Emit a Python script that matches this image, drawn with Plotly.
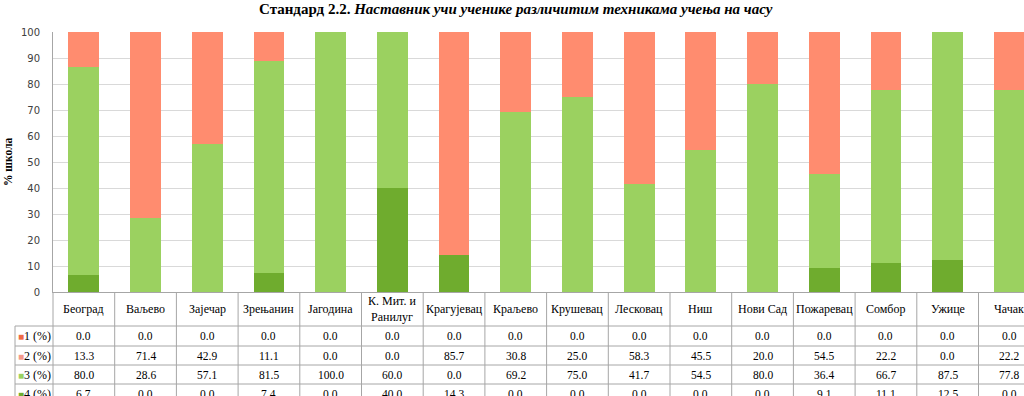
import plotly.graph_objects as go

categories = ["Београд", "Ваљево", "Зајечар", "Зрењанин", "Јагодина", "К. Мит. и<br>Ранилуг",
              "Крагујевац", "Краљево", "Крушевац", "Лесковац", "Ниш", "Нови Сад",
              "Пожаревац", "Сомбор", "Ужице", "Чачак"]
s1 = [0.0] * 16
s2 = [13.3, 71.4, 42.9, 11.1, 0.0, 0.0, 85.7, 30.8, 25.0, 58.3, 45.5, 20.0, 54.5, 22.2, 0.0, 22.2]
s3 = [80.0, 28.6, 57.1, 81.5, 100.0, 60.0, 0.0, 69.2, 75.0, 41.7, 54.5, 80.0, 36.4, 66.7, 87.5, 77.8]
s4 = [6.7, 0.0, 0.0, 7.4, 0.0, 40.0, 14.3, 0.0, 0.0, 0.0, 0.0, 0.0, 9.1, 11.1, 12.5, 0.0]
series_names = ["1 (%)", "2 (%)", "3 (%)", "4 (%)"]
yticks = list(range(0, 101, 10))

colors = {"1 (%)": "#EE6A45", "2 (%)": "#FF8C6F", "3 (%)": "#9BD160", "4 (%)": "#6FAC2E"}
marker_colors = {"1 (%)": "#EE6A45", "2 (%)": "#F59A8A", "3 (%)": "#9BD160", "4 (%)": "#6FAC2E"}
data = {"1 (%)": s1, "2 (%)": s2, "3 (%)": s3, "4 (%)": s4}

W, H = 1024, 396
ML, MR, MT, MB = 53, 0, 32, 104
PW = W - ML - MR
PH = H - MT - MB
n = len(categories)
xs = list(range(n))

def py(p):  # pixel y -> paper y
    return (H - MB - p) / PH

def px(p):  # pixel x -> paper x
    return (p - ML) / PW

fig = go.Figure()
for name in ["4 (%)", "3 (%)", "2 (%)", "1 (%)"]:
    fig.add_trace(go.Bar(x=xs, y=data[name], name=name, width=0.5,
                         marker=dict(color=colors[name], line=dict(width=0)),
                         hoverinfo="skip"))

serif = "Liberation Serif, Times New Roman, serif"
line_col = "#A6A6A6"
ann = []
shapes = []

# title
ann.append(dict(xref="paper", yref="paper", x=px(516), y=py(9), xanchor="center", yanchor="middle",
                showarrow=False,
                text="<b>Стандард 2.2. <i>Наставник учи ученике различитим техникама учења на часу</i></b>",
                font=dict(family=serif, size=15, color="#000000")))
# y title
ann.append(dict(xref="paper", yref="paper", x=px(8), y=0.5, xanchor="center", yanchor="middle",
                showarrow=False, textangle=-90, text="<b>% школа</b>",
                font=dict(family=serif, size=11.5, color="#000000")))

# table geometry
row_edges = [292, 326, 346, 365, 384, 403]
header_c = (row_edges[0] + row_edges[1]) / 2
row_c = [(row_edges[i] + row_edges[i + 1]) / 2 for i in range(1, 5)]

for i, c in enumerate(categories):
    ann.append(dict(xref="x", yref="paper", x=xs[i], y=py(header_c), showarrow=False,
                    xanchor="center", yanchor="middle", text=c,
                    font=dict(family=serif, size=12, color="#000000")))
for r, name in enumerate(series_names):
    vals = data[name]
    ann.append(dict(xref="paper", yref="paper", x=px(16), y=py(row_c[r]), showarrow=False,
                    xanchor="left", yanchor="middle",
                    text=f"<span style='font-size:10px;color:{marker_colors[name]}'>■</span>{name}",
                    font=dict(family=serif, size=12, color="#000000")))
    for i, v in enumerate(vals):
        ann.append(dict(xref="x", yref="paper", x=xs[i], y=py(row_c[r]), showarrow=False,
                        xanchor="center", yanchor="middle", text=f"{v:.1f}",
                        font=dict(family=serif, size=11.5, color="#000000")))

# horizontal table lines
for e in row_edges[1:5]:
    shapes.append(dict(type="line", xref="paper", yref="paper", x0=px(15), x1=1.0,
                       y0=py(e), y1=py(e), line=dict(color=line_col, width=1)))
# vertical table lines at category boundaries
for i in range(n):
    shapes.append(dict(type="line", xref="x", yref="paper", x0=i + 0.5, x1=i + 0.5,
                       y0=0, y1=py(H + 5), line=dict(color=line_col, width=1)))
shapes.append(dict(type="line", xref="paper", yref="paper", x0=0, x1=0,
                   y0=0, y1=py(H + 5), line=dict(color=line_col, width=1)))
shapes.append(dict(type="line", xref="paper", yref="paper", x0=px(15), x1=px(15),
                   y0=py(row_edges[1]), y1=py(H + 5), line=dict(color=line_col, width=1)))

fig.update_layout(
    width=W, height=H, margin=dict(l=ML, r=MR, t=MT, b=MB, pad=0),
    barmode="stack", bargap=0.5, showlegend=False,
    plot_bgcolor="white", paper_bgcolor="white",
    annotations=ann, shapes=shapes,
    xaxis=dict(range=[-0.5, (PW / 61.7) - 0.5], showticklabels=False, ticks="",
               showgrid=False, zeroline=False, showline=True, linecolor=line_col, linewidth=1,
               fixedrange=True),
    yaxis=dict(range=[0, 100], tickvals=yticks, showgrid=True, gridcolor="#D9D9D9", gridwidth=1,
               zeroline=False, showline=True, linecolor=line_col, linewidth=1, ticks="",
               ticklabelstandoff=10,
               tickfont=dict(family="DejaVu Sans, Verdana, sans-serif", size=10, color="#404040"),
               fixedrange=True),
)

fig.write_html("out.html", config={"displayModeBar": False},
               post_script="document.body.style.margin='0';document.body.style.overflow='hidden';")
